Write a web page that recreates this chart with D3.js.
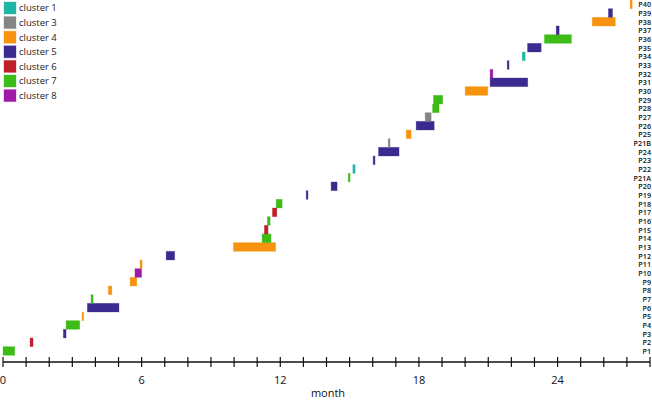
<!DOCTYPE html>
<html>
<head>
<meta charset="utf-8">
<script src="https://cdn.jsdelivr.net/npm/d3@7"></script>
<style>
  body { margin: 0; background: #fff; }
  svg { display: block; font-family: "Open Sans", sans-serif; }
</style>
</head>
<body>
<svg id="chart" width="652" height="400"></svg>
<script>
// rows from bottom (P1) to top (P40)
const rows = ["P1","P2","P3","P4","P5","P6","P7","P8","P9","P10",
  "P11","P12","P13","P14","P15","P16","P17","P18","P19","P20",
  "P21A","P22","P23","P24","P21B","P25","P26","P27","P28","P29",
  "P30","P31","P32","P33","P34","P35","P36","P37","P38","P39","P40"];
const starts = [0, 1.17, 2.61, 2.73, 3.42, 3.65, 3.81, 4.56, 5.50, 5.71,
  5.93, 7.06, 9.97, 11.21, 11.31, 11.44, 11.66, 11.82, 13.12, 14.20,
  14.94, 15.14, 16.02, 16.25, 16.67, 17.45, 17.88, 18.27, 18.59, 18.63,
  20.00, 21.08, 21.08, 21.82, 22.47, 22.70, 23.43, 23.94, 25.50, 26.20, 27.14];
const ends = [0.51, 1.30, 2.73, 3.32, 3.49, 5.02, 3.90, 4.71, 5.79, 6.00,
  6.02, 7.43, 11.80, 11.60, 11.47, 11.56, 11.85, 12.08, 13.20, 14.46,
  15.02, 15.24, 16.10, 17.14, 16.75, 17.66, 18.66, 18.53, 18.87, 19.03,
  20.98, 22.71, 21.20, 21.90, 22.60, 23.29, 24.60, 24.07, 26.50, 26.38, 27.23];
const clusterOf = [7, 6, 5, 7, 4, 5, 7, 4, 4, 8,
  4, 5, 4, 7, 6, 7, 6, 7, 5, 5,
  7, 1, 5, 5, 3, 4, 5, 3, 7, 7,
  4, 5, 8, 5, 1, 5, 7, 5, 4, 5, 4];

const clusters = [1, 3, 4, 5, 6, 7, 8];
const clusterColors = ["#1fb5a8", "#858585", "#f7930e", "#3b2a8f", "#c0202a", "#3dbb17", "#9e1ba6"];
const monthTicks = d3.range(0, 29);
const labelTicks = [0, 6, 12, 18, 24];

const svg = d3.select("#chart");

const x = d3.scaleLinear().domain([0, 28]).range([3, 650]);
const y = d3.scaleBand().domain(rows.slice().reverse()).range([0, 355.3]).padding(0);
const color = d3.scaleOrdinal().domain(clusters).range(clusterColors);

const data = rows.map((r, i) => ({row: r, start: starts[i], end: ends[i], cluster: clusterOf[i]}));

// bars
svg.append("g")
  .selectAll("rect")
  .data(data)
  .join("rect")
  .attr("x", d => x(d.start))
  .attr("y", d => y(d.row))
  .attr("width", d => x(d.end) - x(d.start))
  .attr("height", y.bandwidth())
  .attr("fill", d => color(d.cluster))
  .attr("stroke", d => color(d.cluster))
  .attr("stroke-opacity", 0.35)
  .attr("stroke-width", 0.8);

// row labels on the right
svg.append("g")
  .selectAll("text")
  .data(rows)
  .join("text")
  .attr("x", 651)
  .attr("y", d => y(d) + y.bandwidth() / 2 + 0.5)
  .attr("dy", "0.35em")
  .attr("text-anchor", "end")
  .attr("font-size", 7.2)
  .attr("font-weight", 600)
  .attr("fill", "#111")
  .text(d => d);

// x axis
const axisY = 362;
const ax = svg.append("g").attr("transform", `translate(0,${axisY})`);
ax.append("line")
  .attr("x1", x(0)).attr("x2", x(28))
  .attr("stroke", "#111").attr("stroke-width", 1.6);
ax.selectAll("line.tick")
  .data(monthTicks)
  .join("line")
  .attr("class", "tick")
  .attr("x1", d => x(d)).attr("x2", d => x(d))
  .attr("y1", -5).attr("y2", 5)
  .attr("stroke", "#111").attr("stroke-width", 1.2);
ax.selectAll("text")
  .data(labelTicks)
  .join("text")
  .attr("x", d => x(d))
  .attr("y", 22)
  .attr("text-anchor", "middle")
  .attr("font-size", 11)
  .attr("fill", "#111")
  .text(d => d);

svg.append("text")
  .attr("x", 328)
  .attr("y", 397)
  .attr("text-anchor", "middle")
  .attr("font-size", 11)
  .attr("fill", "#111")
  .text("month");

// legend
const legend = svg.append("g")
  .selectAll("g")
  .data(clusters)
  .join("g")
  .attr("transform", (d, i) => `translate(4,${2 + i * 14.6})`);
legend.append("rect")
  .attr("width", 12).attr("height", 12)
  .attr("fill", d => color(d))
  .attr("stroke", d => color(d))
  .attr("stroke-opacity", 0.35);
legend.append("text")
  .attr("x", 15)
  .attr("y", 6)
  .attr("dy", "0.35em")
  .attr("font-size", 9.5)
  .attr("fill", "#222")
  .text(d => "cluster " + d);
</script>
</body>
</html>
